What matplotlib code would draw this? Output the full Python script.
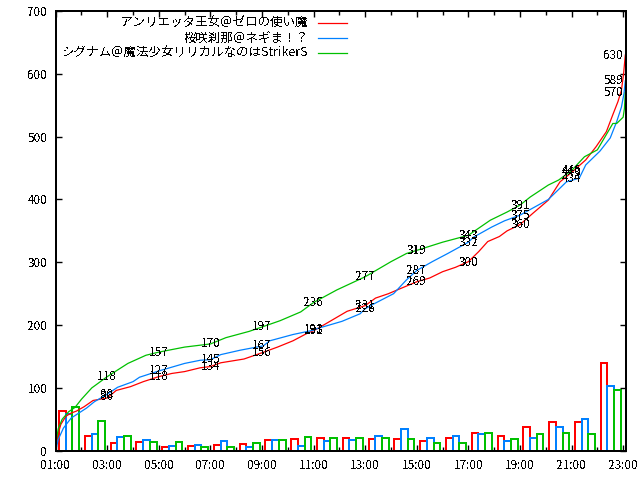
import numpy as np
import matplotlib
matplotlib.use("Agg")
import matplotlib.pyplot as plt

plt.rcParams['font.family'] = ['Noto Sans CJK JP', 'DejaVu Sans']
plt.rcParams['text.antialiased'] = False
plt.rcParams['patch.antialiased'] = False

names = ["アンリエッタ王女＠ゼロの使い魔", "桜咲刹那＠ネギま！？", "シグナム＠魔法少女リリカルなのはStrikerS"]
colors = ["#ff0000", "#0080ff", "#00c000"]

# per-hour counts, 01:00 .. 22:00
hours = list(range(1, 23))
red_bars = [63, 24, 13, 14, 6, 7, 9, 11, 17, 18, 20, 20, 18, 18, 15, 20, 28, 24, 37, 46, 46, 139]
blue_bars = [59, 26, 22, 17, 7, 9, 16, 6, 17, 7, 15, 17, 24, 34, 20, 24, 26, 15, 20, 38, 51, 103]
green_bars = [69, 47, 24, 14, 14, 6, 6, 12, 17, 22, 20, 20, 21, 18, 12, 12, 28, 18, 26, 28, 26, 97]

# cumulative lines (time, total)
red_t = ["01:00", "01:05", "01:12", "01:24", "01:36", "01:48", "02:06", "02:27", "03:00", "03:21", "03:54",
         "04:24", "05:00", "05:30", "06:00", "06:36", "07:00", "07:24", "08:18", "09:00", "09:36", "10:12",
         "10:48", "11:00", "11:18", "11:48", "12:18", "13:00", "13:24", "13:54", "14:18", "15:00", "15:30",
         "16:00", "16:30", "17:00", "17:24", "17:45", "18:12", "18:30", "18:54", "19:00", "19:30", "20:06",
         "20:33", "21:00", "21:33", "21:57", "22:21", "22:36", "22:48", "22:56", "23:01", "23:05"]
red_v = [0, 25, 42, 55, 60, 63, 70, 80, 84, 96, 102, 110, 118, 123, 126, 132, 134, 140, 146, 156, 165, 175,
         188, 191, 198, 210, 222, 231, 243, 250, 257, 269, 275, 285, 292, 301, 317, 333, 341, 350, 358, 360,
         378, 399, 428, 443, 463, 484, 508, 535, 556, 574, 600, 630]

blue_t = ["01:00", "01:06", "01:18", "01:36", "01:54", "02:12", "02:30", "03:00", "03:24", "04:00", "04:15",
          "05:00", "06:00", "06:36", "07:00", "07:24", "08:09", "09:03", "09:18", "10:12", "11:00", "11:06",
          "12:06", "12:48", "13:00", "13:18", "14:06", "14:36", "15:00", "15:36", "16:12", "17:00", "17:12",
          "17:54", "18:24", "19:00", "20:06", "20:48", "21:18", "21:33", "22:06", "22:30", "22:45", "22:56",
          "23:02", "23:05"]
blue_v = [0, 18, 36, 52, 60, 68, 78, 90, 101, 110, 117, 127, 139, 144, 145, 153, 160, 167, 175, 185, 192, 194,
          206, 218, 226, 233, 250, 272, 287, 301, 314, 332, 340, 356, 366, 375, 400, 428, 434, 455, 477, 498,
          524, 547, 569, 589]

green_t = ["01:00", "01:06", "01:15", "01:30", "01:45", "02:00", "02:24", "03:00", "03:48", "04:30", "05:00",
           "06:00", "07:00", "07:36", "08:30", "09:00", "09:42", "10:30", "11:00", "11:54", "13:00", "14:00",
           "14:36", "15:00", "16:00", "17:00", "17:51", "18:30", "19:00", "19:24", "20:06", "20:30", "21:00",
           "21:30", "22:00", "22:18", "22:36", "22:45", "23:00", "23:03", "23:05"]
green_v = [10, 35, 50, 62, 69, 82, 100, 118, 139, 152, 157, 165, 170, 180, 190, 197, 207, 221, 236, 256, 277,
           301, 314, 319, 332, 343, 367, 380, 391, 404, 423, 431, 446, 468, 479, 500, 521, 521, 531, 545, 570]

# values written on the lines at odd hours
label_hours = [3, 5, 7, 9, 11, 13, 15, 17, 19, 21, 23]
red_labels = [86, 118, 134, 156, 191, 231, 269, 300, 360, 443, 630]
blue_labels = [90, 127, 145, 167, 193, 226, 287, 332, 375, 434, 589]
green_labels = [118, 157, 170, 197, 236, 277, 319, 343, 391, 446, 570]


def to_h(ts):
    return [int(s[:2]) + int(s[3:]) / 60 for s in ts]


fig = plt.figure(figsize=(6.4, 4.8), dpi=100)
ax = fig.add_axes([0.087, 0.061, 0.8907, 0.916])

w = 0.26
off = 0.13
for i, (vals, c) in enumerate(zip([red_bars, blue_bars, green_bars], colors)):
    x = np.array(hours) + off + i * w
    ax.bar(x, vals, width=w, align='edge', fill=False, edgecolor=c, linewidth=1.2)

series = [(red_t, red_v), (blue_t, blue_v), (green_t, green_v)]
for (t, v), c, n in zip(series, colors, names):
    ax.plot(to_h(t), v, color=c, lw=0.9, label=n, antialiased=True)

for labs in [red_labels, blue_labels, green_labels]:
    for h, v in zip(label_hours, labs):
        if h == 23:
            ax.text(h, v, str(v), ha='right', va='center', fontsize=8.5)
        else:
            ax.text(h, v, str(v), ha='center', va='center', fontsize=8.5)

ax.set_xlim(1, 23.1)
ax.set_ylim(0, 700)
ax.set_xticks(range(1, 24, 2))
ax.set_xticklabels(["%02d:00" % h for h in range(1, 24, 2)])
ax.set_xticks(range(1, 24), minor=True)
ax.set_yticks(range(0, 701, 100))
ax.tick_params(direction='in', top=True, right=True, length=4, width=1, labelsize=8.5, pad=6)
ax.tick_params(which='minor', direction='in', top=True, length=3, width=1)
for s in ax.spines.values():
    s.set_linewidth(1.2)

leg = ax.legend(loc='upper left', frameon=False, markerfirst=False, fontsize=9,
                handlelength=2.3, labelspacing=0.15, borderaxespad=0.1, handletextpad=0.8)

fig.savefig("out.png", dpi=100)
